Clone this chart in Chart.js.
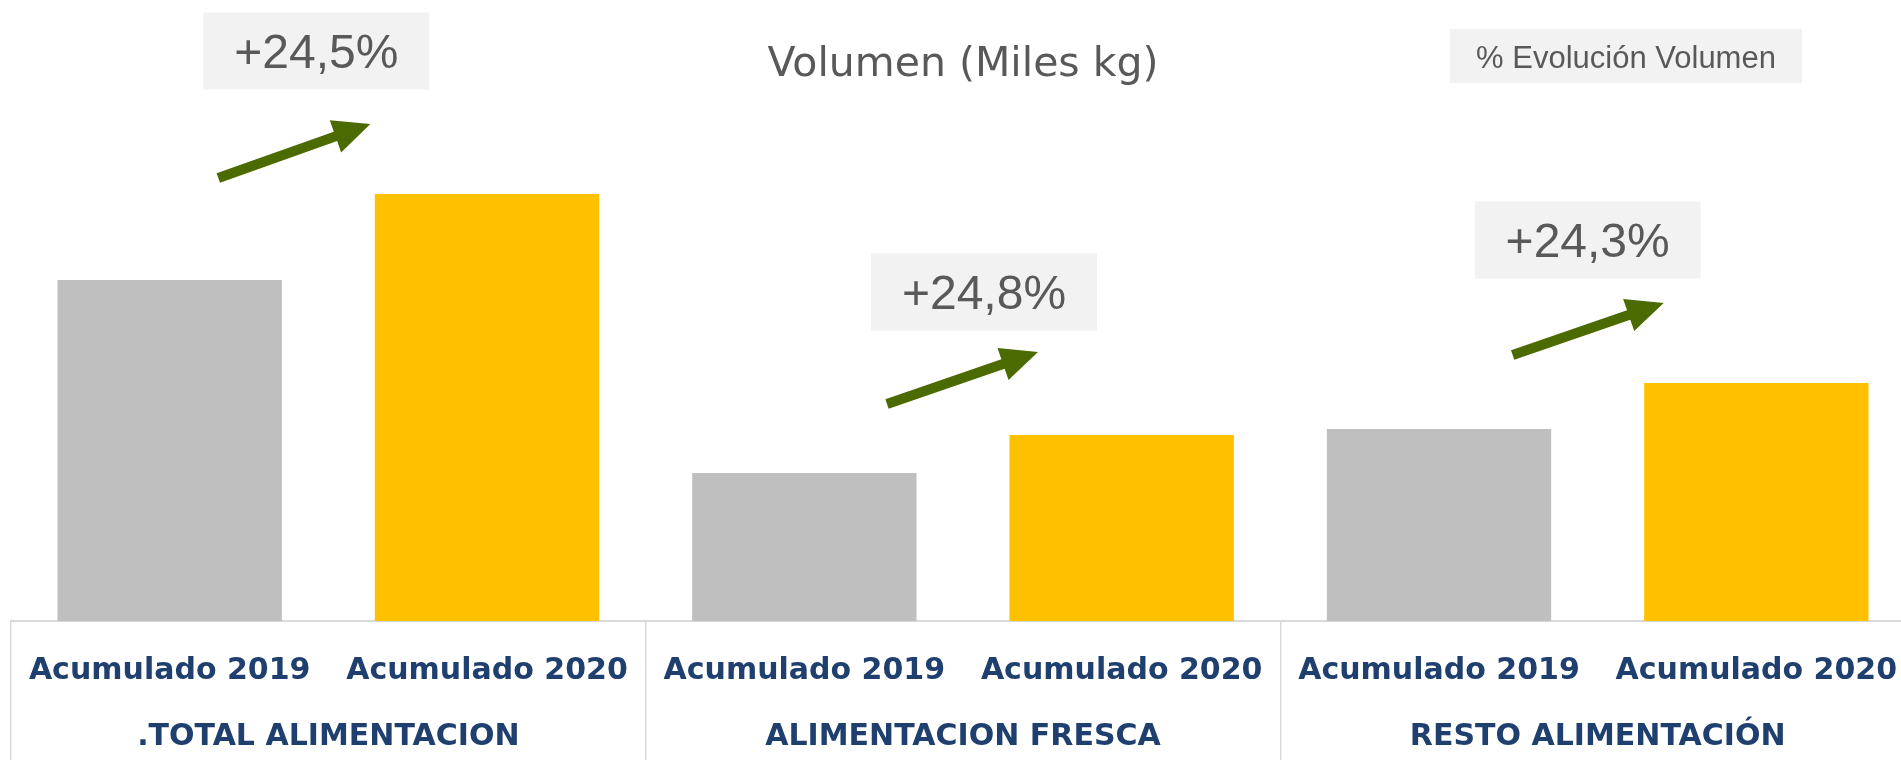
<!DOCTYPE html>
<html>
<head>
<meta charset="utf-8">
<script src="https://cdn.jsdelivr.net/npm/chart.js@4.4.1/dist/chart.umd.min.js"></script>
<style>
  html, body { margin: 0; padding: 0; background: #ffffff; overflow: hidden; width: 1901px; height: 760px; }
  #wrap { position: absolute; left: 0; top: 0; width: 1915px; height: 760px; }
  canvas { display: block; }
</style>
</head>
<body>
<div id="wrap"><canvas id="c" width="1915" height="760"></canvas></div>
<script>
// ---- data (relative units of "Miles kg") ----
const categories = ['Acumulado 2019', 'Acumulado 2020', 'Acumulado 2019', 'Acumulado 2020', 'Acumulado 2019', 'Acumulado 2020'];
const groups = ['.TOTAL ALIMENTACION', 'ALIMENTACION FRESCA', 'RESTO ALIMENTACIÓN'];
const volumen2019 = [341, 148, 192];
const volumen2020 = [427, 186, 238];
const evolucion = ['+24,5%', '+24,8%', '+24,3%'];
const titleText = 'Volumen (Miles kg)';
const legendText = '% Evolución Volumen';
const yMax = 621;

// ---- styles / layout ----
const GRAY = '#bfbfbf', YELLOW = '#ffc000', ARROW = '#4b6a00', BOXFILL = '#f2f2f2', TXT = '#595959', AXISTXT = '#1f3f6e', LINE = '#d9d9d9';
// annotation offsets relative to (group centre, top of 2020 bar)
const annotLayout = [
  { box: -12, tail: [-110, -16], tip: [42, -70] },
  { box: 21,  tail: [-76, -31],  tip: [75, -83] },
  { box: -10, tail: [-85, -28],  tip: [66, -80] }
];

const values = groups.flatMap((g, i) => [volumen2019[i], volumen2020[i]]);
const colors = categories.map((c, i) => (i % 2 === 0 ? GRAY : YELLOW));

function drawArrow(ctx, tx, ty, px, py) {
  const dx = px - tx, dy = py - ty, len = Math.hypot(dx, dy);
  const ux = dx / len, uy = dy / len, nx = -uy, ny = ux;
  const headLen = 37, headHalf = 17, shaftHalf = 5;
  const bx = px - ux * headLen, by = py - uy * headLen;
  ctx.beginPath();
  ctx.moveTo(tx + nx * shaftHalf, ty + ny * shaftHalf);
  ctx.lineTo(bx + nx * shaftHalf, by + ny * shaftHalf);
  ctx.lineTo(bx + nx * headHalf, by + ny * headHalf);
  ctx.lineTo(px, py);
  ctx.lineTo(bx - nx * headHalf, by - ny * headHalf);
  ctx.lineTo(bx - nx * shaftHalf, by - ny * shaftHalf);
  ctx.lineTo(tx - nx * shaftHalf, ty - ny * shaftHalf);
  ctx.closePath();
  ctx.fillStyle = ARROW;
  ctx.fill();
}

const annotPlugin = {
  id: 'annot',
  afterDatasetsDraw(chart) {
    const { ctx, chartArea, scales: { x, y } } = chart;
    ctx.save();
    // title
    ctx.fillStyle = TXT;
    ctx.font = '41px "DejaVu Sans"';
    ctx.textAlign = 'center';
    ctx.textBaseline = 'alphabetic';
    ctx.fillText(titleText, (chartArea.left + chartArea.right) / 2, 76);
    // legend-like box
    ctx.fillStyle = BOXFILL;
    ctx.fillRect(1450, 29, 352, 54);
    ctx.fillStyle = TXT;
    ctx.font = '31px "Liberation Sans"';
    ctx.fillText(legendText, 1626, 68);
    // percentage boxes and arrows
    groups.forEach((g, i) => {
      const cx = (x.getPixelForValue(2 * i) + x.getPixelForValue(2 * i + 1)) / 2;
      const top = y.getPixelForValue(volumen2020[i]);
      const L = annotLayout[i];
      const bw = 226, bh = 77;
      const bcx = cx + L.box, bcy = top - 143;
      ctx.fillStyle = BOXFILL;
      ctx.fillRect(bcx - bw / 2, bcy - bh / 2, bw, bh);
      ctx.fillStyle = TXT;
      ctx.font = '48px "Liberation Sans"';
      ctx.textAlign = 'center';
      ctx.fillText(evolucion[i], bcx, bcy + 17);
      drawArrow(ctx, cx + L.tail[0], top + L.tail[1], cx + L.tip[0], top + L.tip[1]);
    });
    ctx.restore();
  }
};

const tickFont = { family: '"DejaVu Sans"', weight: 'bold', size: 30 };

new Chart(document.getElementById('c'), {
  type: 'bar',
  data: {
    labels: categories,
    datasets: [{
      data: values,
      backgroundColor: colors,
      borderWidth: 0,
      categoryPercentage: 1,
      barPercentage: 0.707
    }]
  },
  options: {
    responsive: false,
    animation: false,
    devicePixelRatio: 1,
    layout: { padding: { left: 11, right: 0, top: 0, bottom: 0 } },
    plugins: { legend: { display: false }, tooltip: { enabled: false }, title: { display: false } },
    scales: {
      y: { display: false, min: 0, max: yMax },
      x: {
        position: 'bottom',
        weight: 0,
        grid: {
          offset: true,
          drawOnChartArea: false,
          drawTicks: true,
          tickLength: 66,
          lineWidth: 1.5,
          color: (c) => (c.index % 2 === 0 ? LINE : 'rgba(0,0,0,0)')
        },
        border: { display: true, color: LINE, width: 2 },
        ticks: { padding: -34, color: AXISTXT, font: tickFont, maxRotation: 0, autoSkip: false },
        afterFit: (s) => { s.height = 66; }
      },
      x2: {
        type: 'category',
        labels: groups,
        position: 'bottom',
        weight: 1,
        offset: true,
        grid: {
          offset: true,
          drawOnChartArea: false,
          drawTicks: true,
          tickLength: 80,
          lineWidth: 1.5,
          color: LINE
        },
        border: { display: false },
        ticks: { padding: -48, color: AXISTXT, font: tickFont, maxRotation: 0, autoSkip: false },
        afterFit: (s) => { s.height = 73; }
      }
    }
  },
  plugins: [annotPlugin]
});
</script>
</body>
</html>
